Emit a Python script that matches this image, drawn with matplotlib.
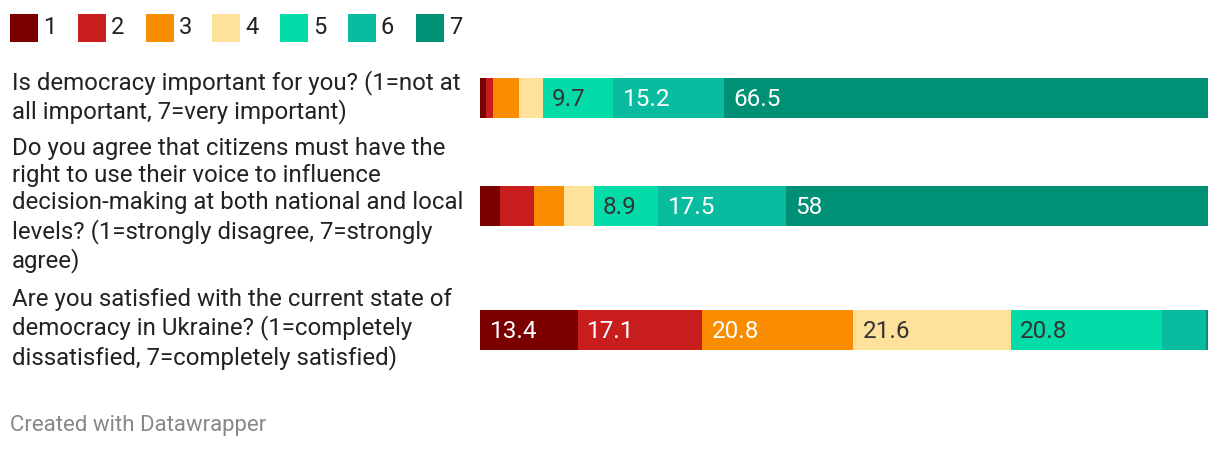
import matplotlib
matplotlib.use("Agg")
import matplotlib.pyplot as plt
from matplotlib.patches import Rectangle
import numpy as np

plt.rcParams['font.family'] = ['Roboto', 'DejaVu Sans']

questions = [
    "Is democracy important for you? (1=not at\nall important, 7=very important)",
    "Do you agree that citizens must have the\nright to use their voice to influence\ndecision-making at both national and local\nlevels? (1=strongly disagree, 7=strongly\nagree)",
    "Are you satisfied with the current state of\ndemocracy in Ukraine? (1=completely\ndissatisfied, 7=completely satisfied)",
]
categories = ["1", "2", "3", "4", "5", "6", "7"]
values = [
    [0.8, 1.0, 3.6, 3.2, 9.7, 15.2, 66.5],
    [2.7, 4.7, 4.1, 4.1, 8.9, 17.5, 58.0],
    [13.4, 17.1, 20.8, 21.6, 20.8, 6.0, 0.3],
]
colors = ["#7a0000", "#c71e1d", "#fa8c00", "#fee29c", "#03dca9", "#09bc9f", "#009076"]
text_colors = ["white", "white", "white", "#333333", "#333333", "white", "white"]

W, H = 1220, 450
fig = plt.figure(figsize=(W / 100, H / 100), dpi=100)
fig.patch.set_facecolor("white")

x0, x1 = 480, 1208
ax = fig.add_axes([x0 / W, 0, (x1 - x0) / W, 1])
ax.set_xlim(0, 100)
ax.set_ylim(H, 0)
ax.axis("off")

centers = [98, 206, 330]
bar_h = 40
for qi, row in enumerate(values):
    left = 0
    for ci, v in enumerate(row):
        ax.barh(centers[qi], v, left=left, height=bar_h, color=colors[ci], linewidth=0)
        if v >= 8:
            lbl = f"{v:g}"
            ax.text(left + 1.3, centers[qi] + 1, lbl, va="center", ha="left",
                    fontsize=17.5, color=text_colors[ci])
        left += v
    fig.text(12 / W, 1 - (centers[qi] - 1) / H, questions[qi], ha="left", va="center",
             fontsize=17.3, color="#222222", linespacing=1.235)

# legend
lx = [10, 78, 146, 212, 280, 348, 416]
for i, c in enumerate(categories):
    fig.patches.append(Rectangle((lx[i] / W, 1 - 42 / H), 28 / W, 28 / H,
                                 transform=fig.transFigure, color=colors[i], linewidth=0))
    fig.text((lx[i] + 33) / W, 1 - 27 / H, c, ha="left", va="center",
             fontsize=17, color="#222222")

fig.text(10 / W, 1 - 425 / H, "Created with Datawrapper", ha="left", va="center",
         fontsize=16, color="#888888")

fig.savefig("out.png", dpi=100)
